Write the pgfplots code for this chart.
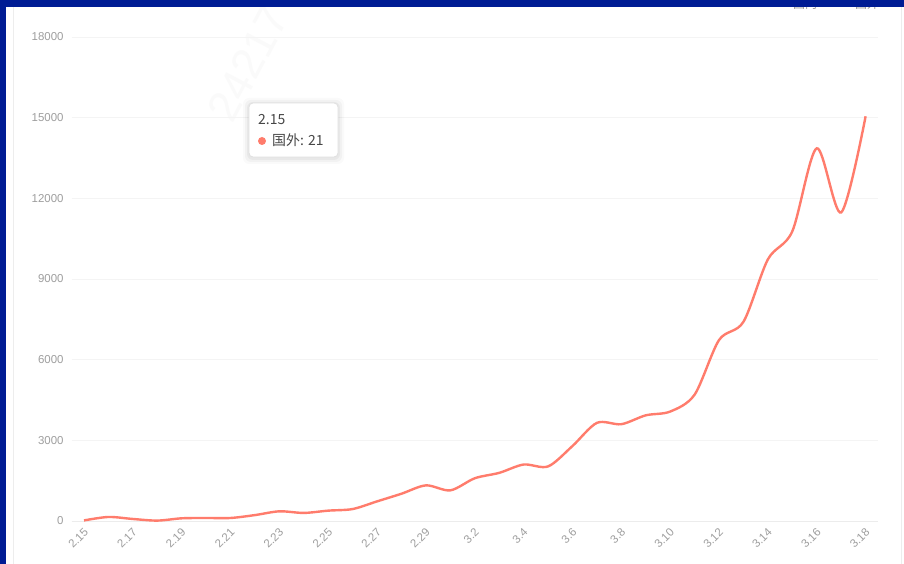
\documentclass[border=0pt]{standalone}
\usepackage{pgfplots}
\pgfplotsset{compat=1.18}
\usepackage{fontspec}
\setmainfont{Liberation Sans}
\newfontfamily\cjk{Noto Sans CJK SC}
\definecolor{linec}{RGB}{255,124,108}
\definecolor{frameblue}{RGB}{0,28,148}
\definecolor{ticktext}{RGB}{158,158,158}
\definecolor{gridc}{RGB}{244,244,244}
\definecolor{axisc}{RGB}{236,236,236}
\definecolor{tiptext}{RGB}{70,70,70}

\pgfplotstableread{
x y
0 21
1 150
2 75
3 15
4 100
5 112
6 112
7 220
8 360
9 300
10 385
11 445
12 730
13 1015
14 1325
15 1140
16 1590
17 1790
18 2100
19 2030
20 2790
21 3650
22 3600
23 3930
24 4070
25 4700
26 6730
27 7410
28 9730
29 10775
30 13860
31 11475
32 15050
}\datatable

\begin{document}
\begin{tikzpicture}[x=1bp,y=1bp]
\fill[white] (0,0) rectangle (904,564);
% faint watermark
\node[rotate=62, text=black!2, font=\fontsize{44}{44}\selectfont] at (248,500) {24217};
% faint card borders
\draw[black!7, line width=0.8bp] (13,0) -- (13,557);
\draw[black!7, line width=0.8bp] (901.5,0) -- (901.5,557);
% clipped legend text
\node[anchor=south west, inner sep=0, text=black!40, font=\cjk\fontsize{12}{12}\selectfont] at (793,554.5) {国内};
\node[anchor=south west, inner sep=0, text=black!40, font=\cjk\fontsize{12}{12}\selectfont] at (855,554.5) {国外};

\begin{axis}[
  at={(71.8bp,43bp)}, anchor=south west,
  scale only axis, width=806bp, height=484bp,
  xmin=-0.5, xmax=32.5, ymin=0, ymax=18000,
  scaled y ticks=false,
  axis line style={draw=none},
  major tick length=0pt,
  ymajorgrids, grid style={gridc, line width=0.8bp},
  ytick={0,3000,6000,9000,12000,15000,18000},
  yticklabels={0,3000,6000,9000,12000,15000,18000},
  yticklabel style={font=\fontsize{11.5}{12}\selectfont, text=ticktext, inner sep=0pt, anchor=east, xshift=-8bp},
  xtick={0,2,...,32},
  xticklabels={2.15,2.17,2.19,2.21,2.23,2.25,2.27,2.29,3.2,3.4,3.6,3.8,3.10,3.12,3.14,3.16,3.18},
  xticklabel style={font=\fontsize{11.5}{12}\selectfont, text=ticktext, inner sep=0pt, rotate=45, anchor=east, yshift=-8bp, xshift=-5bp},
  clip=false,
]
\draw[axisc, line width=0.9bp] (axis cs:-0.5,0) -- (axis cs:32.5,0);
\addplot[color=linec, line width=2.4bp, smooth, tension=0.5, no markers] table[x=x,y=y] {\datatable};
\end{axis}

% tooltip
\foreach \s/\o in {6/0.02,4/0.03,2/0.04} {
  \fill[black, opacity=\o, rounded corners=6bp] (249-\s,407-\s-1) rectangle (338+\s,461+\s-1);
}
\draw[black!12, fill=white, rounded corners=4bp, line width=0.8bp] (249,407) rectangle (338,461);
\node[anchor=base west, inner sep=0, text=tiptext, font=\cjk\fontsize{14}{14}\selectfont] at (258,439) {2.15};
\fill[linec] (262,423) circle (4bp);
\node[anchor=base west, inner sep=0, text=tiptext, font=\cjk\fontsize{14}{14}\selectfont] at (272,418) {国外: 21};

% blue frame
\fill[frameblue] (0,557) rectangle (904,564);
\fill[frameblue] (0,0) rectangle (6,564);

\pgfresetboundingbox
\useasboundingbox (0,0) rectangle (904,564);
\end{tikzpicture}
\end{document}
